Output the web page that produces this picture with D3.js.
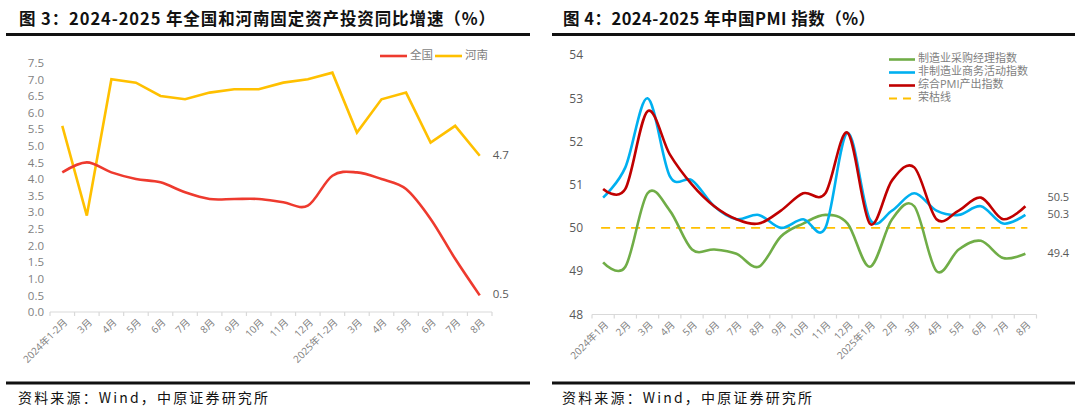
<!DOCTYPE html>
<html><head><meta charset="utf-8">
<script src="https://cdn.jsdelivr.net/npm/d3@7"></script>
<style>body{margin:0;background:#fff} svg{display:block}</style>
</head><body><svg id="c" width="1080" height="410"></svg>
<script>
// ---------- data: figure 3 ----------
const fiCategories = ["2024年1-2月","3月","4月","5月","6月","7月","8月","9月","10月","11月","12月",
  "2025年1-2月","3月","4月","5月","6月","7月","8月"];
const nationalFAI = [4.2,4.5,4.2,4.0,3.9,3.6,3.4,3.4,3.4,3.3,3.2,4.1,4.2,4.0,3.7,2.8,1.6,0.5];
const henanFAI    = [5.6,2.9,7.0,6.9,6.5,6.4,6.6,6.7,6.7,6.9,7.0,7.2,5.4,6.4,6.6,5.1,5.6,4.7];
const fiYTicks = [0,0.5,1,1.5,2,2.5,3,3.5,4,4.5,5,5.5,6,6.5,7,7.5];
const fiSeriesNames = ["全国","河南"];

// ---------- data: figure 4 ----------
const pmiCategories = ["2024年1月","2月","3月","4月","5月","6月","7月","8月","9月","10月","11月","12月",
  "2025年1月","2月","3月","4月","5月","6月","7月","8月"];
const mfgPMI       = [49.2,49.1,50.8,50.4,49.5,49.5,49.4,49.1,49.8,50.1,50.3,50.1,49.1,50.2,50.5,49.0,49.5,49.7,49.3,49.4];
const nonMfgPMI    = [50.7,51.4,53.0,51.2,51.1,50.5,50.2,50.3,50.0,50.2,50.0,52.2,50.2,50.4,50.8,50.4,50.3,50.5,50.1,50.3];
const compositePMI = [50.9,50.9,52.7,51.7,51.0,50.5,50.2,50.1,50.4,50.8,50.8,52.2,50.1,51.1,51.4,50.2,50.4,50.7,50.2,50.5];
const boomBustLine = 50;
const pmiYTicks = [48,49,50,51,52,53,54];
const pmiSeriesNames = ["制造业采购经理指数","非制造业商务活动指数","综合PMI产出指数","荣枯线"];

const titles = ["图 3：2024-2025 年全国和河南固定资产投资同比增速（%）","图 4：2024-2025 年中国PMI 指数（%）"];
const sourceText = "资料来源：Wind，中原证券研究所";

// ---------- drawing ----------
const svg = d3.select("#c");
const FONT = "'Open Sans','Noto Sans CJK SC',sans-serif";
const GRAY = "#7f7f7f";

// headers & footers
[[6,530,19,476],[552,1075,563,312]].forEach(([x0,x1,tx,tl],i)=>{
  svg.append("text").attr("x",tx).attr("y",25).text(titles[i])
    .attr("font-family","'Noto Sans CJK SC',sans-serif").attr("font-weight","bold")
    .attr("font-size",16.5).attr("fill","#111")
    .attr("textLength",tl).attr("lengthAdjust","spacing");
  svg.append("line").attr("x1",x0).attr("x2",x1).attr("y1",34.5).attr("y2",34.5)
    .attr("stroke","#111").attr("stroke-width",3);
  svg.append("line").attr("x1",x0).attr("x2",x1).attr("y1",383).attr("y2",383)
    .attr("stroke","#111").attr("stroke-width",3);
  svg.append("text").attr("x",tx-1).attr("y",403).text(sourceText)
    .attr("font-family","'Noto Sans CJK SC',sans-serif").attr("font-size",14).attr("fill","#111")
    .attr("textLength",250).attr("lengthAdjust","spacing");
});

function xAxis(g, x, yPos, cats) {
  const [r0,r1] = x.range();
  const idx = d3.range(cats.length);
  g.append("line").attr("x1",r0).attr("x2",r1).attr("y1",yPos).attr("y2",yPos)
    .attr("stroke","#d9d9d9").attr("stroke-width",1.2);
  const bounds = idx.map(i=>x(i)).concat([r1]);
  g.selectAll(null).data(bounds).join("line")
    .attr("x1",d=>d).attr("x2",d=>d).attr("y1",yPos).attr("y2",yPos+4)
    .attr("stroke","#d9d9d9").attr("stroke-width",1.2);
  g.selectAll(null).data(idx).join("text")
    .attr("transform",i=>`translate(${x(i)+x.bandwidth()/2+4},${yPos+9}) rotate(-45)`)
    .attr("text-anchor","end").attr("dominant-baseline","middle")
    .attr("font-family",FONT).attr("font-size",10).attr("fill",GRAY).text(i=>cats[i]);
}

// ----- figure 3 -----
{
  const g = svg.append("g");
  const x = d3.scaleBand().domain(d3.range(fiCategories.length)).range([50,492]);
  const y = d3.scaleLinear().domain([0,7.5]).range([312,62.7]);
  const cx = i=>x(i)+x.bandwidth()/2;
  const ya = d3.axisLeft(y).tickValues(fiYTicks).tickFormat(d3.format(".1f")).tickSize(0).tickPadding(0);
  const ag = g.append("g").attr("transform","translate(44,0)").call(ya);
  ag.select(".domain").remove();
  ag.selectAll("text").attr("font-family",FONT).attr("font-size",11.5).attr("fill",GRAY);
  xAxis(g, x, 312, fiCategories);

  const lineSmooth = d3.line().x((d,i)=>cx(i)).y(d=>y(d)).curve(d3.curveCardinal.tension(0));
  const lineStraight = d3.line().x((d,i)=>cx(i)).y(d=>y(d));
  g.append("path").attr("d",lineStraight(henanFAI)).attr("fill","none").attr("stroke","#FFC000").attr("stroke-width",2.6);
  g.append("path").attr("d",lineSmooth(nationalFAI)).attr("fill","none").attr("stroke","#EE3A2E").attr("stroke-width",2.6);

  const last = fiCategories.length-1;
  [henanFAI[last],nationalFAI[last]].forEach(v=>{
    g.append("text").attr("x",cx(last)+13).attr("y",y(v)).attr("dominant-baseline","middle")
      .attr("font-family",FONT).attr("font-size",11.5).attr("fill","#595959").text(d3.format(".1f")(v));
  });

  // legend
  const lg = [["#EE3A2E",380],["#FFC000",435]];
  lg.forEach(([c,lx],i)=>{
    g.append("line").attr("x1",lx).attr("x2",lx+27).attr("y1",56).attr("y2",56).attr("stroke",c).attr("stroke-width",2.6);
    g.append("text").attr("x",lx+30).attr("y",56).attr("dominant-baseline","middle")
      .attr("font-family",FONT).attr("font-size",11.5).attr("fill",GRAY).text(fiSeriesNames[i]);
  });
}

// ----- figure 4 -----
{
  const g = svg.append("g");
  const x = d3.scaleBand().domain(d3.range(pmiCategories.length)).range([592,1036.5]);
  const y = d3.scaleLinear().domain([48,54]).range([314.3,55]);
  const cx = i=>x(i)+x.bandwidth()/2;
  const ya = d3.axisLeft(y).tickValues(pmiYTicks).tickFormat(d3.format("d")).tickSize(0).tickPadding(0);
  const ag = g.append("g").attr("transform","translate(583,0)").call(ya);
  ag.select(".domain").remove();
  ag.selectAll("text").attr("font-family",FONT).attr("font-size",12).attr("fill","#595959");
  xAxis(g, x, 314.5, pmiCategories);

  const li = pmiCategories.length-1;
  g.append("line").attr("x1",cx(0)-2).attr("x2",cx(li)+2).attr("y1",y(boomBustLine)).attr("y2",y(boomBustLine))
    .attr("stroke","#FFC000").attr("stroke-width",1.8).attr("stroke-dasharray","9,6");

  const line = d3.line().x((d,i)=>cx(i)).y(d=>y(d)).curve(d3.curveCardinal.tension(0));
  const series = [[mfgPMI,"#70AD47"],[nonMfgPMI,"#00B0F0"],[compositePMI,"#C00000"]];
  series.forEach(([s,c])=>{
    g.append("path").attr("d",line(s)).attr("fill","none").attr("stroke",c).attr("stroke-width",2.6);
  });
  [[compositePMI[li],-8],[nonMfgPMI[li],0],[mfgPMI[li],0]].forEach(([v,dy])=>{
    g.append("text").attr("x",cx(li)+22).attr("y",y(v)+dy).attr("dominant-baseline","middle")
      .attr("font-family",FONT).attr("font-size",11).attr("fill","#595959").text(d3.format(".1f")(v));
  });

  // legend
  const lc = ["#70AD47","#00B0F0","#C00000","#FFC000"];
  lc.forEach((c,i)=>{
    const ly = 59.5 + i*13;
    const l = g.append("line").attr("x1",889).attr("x2",915).attr("y1",ly).attr("y2",ly).attr("stroke",c)
      .attr("stroke-width",i===3?1.8:2.6);
    if(i===3) l.attr("stroke-dasharray","8,6");
    g.append("text").attr("x",918).attr("y",ly).attr("dominant-baseline","middle")
      .attr("font-family",FONT).attr("font-size",11).attr("fill",GRAY).text(pmiSeriesNames[i]);
  });
}
</script></body></html>
